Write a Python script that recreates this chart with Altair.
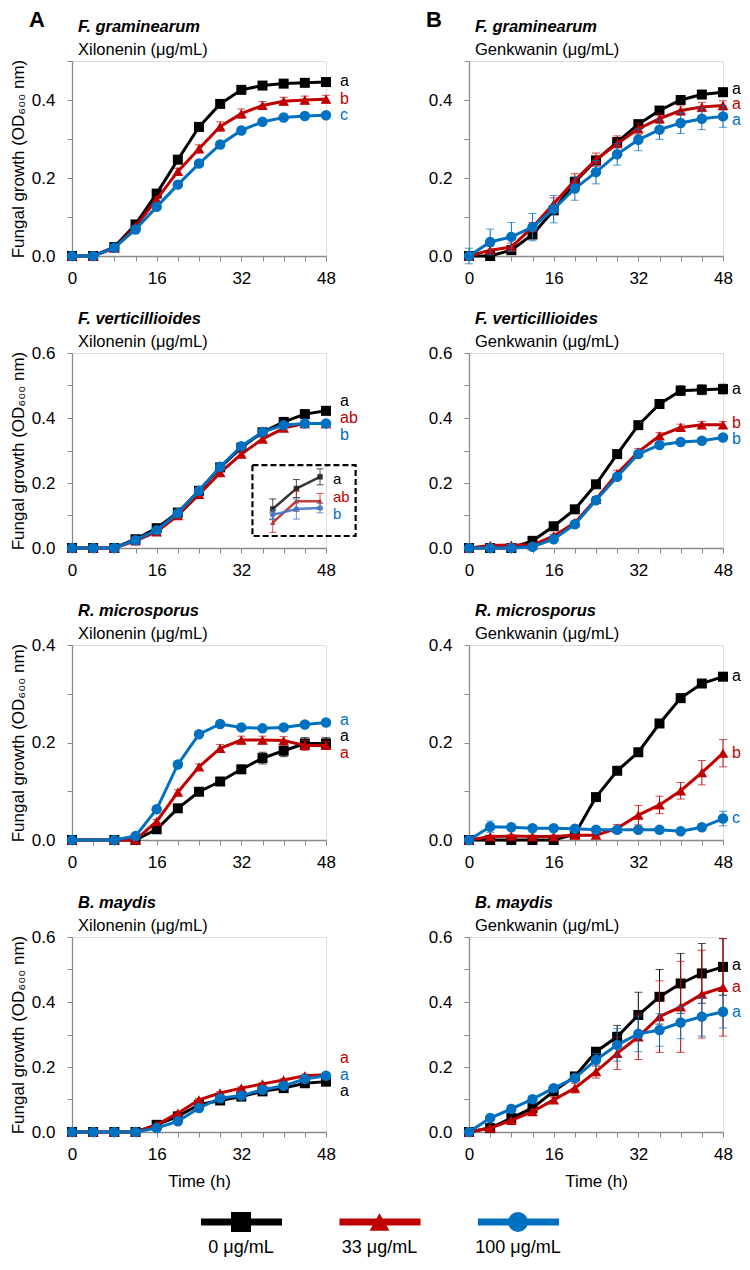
import altair as alt
import pandas as pd

FONT = "Liberation Sans"
TIME = [0, 4, 8, 12, 16, 20, 24, 28, 32, 36, 40, 44, 48]
TIME_RM_XIL = [0, 8, 12, 16, 20, 24, 28, 32, 36, 40, 44, 48]
XTICKS = TIME
SERIES = ["0 μg/mL", "33 μg/mL", "100 μg/mL"]
COLORS = ["#000000", "#C00000", "#0070C0"]
SHAPES = ["square", "triangle-up", "circle"]
SIZES = [100, 115, 110]
YTITLE = "Fungal growth (OD₆₀₀ nm)"

# ---------------- F. graminearum ----------------
fg_xil_0 = [0, 0, 0.023, 0.081, 0.160, 0.247, 0.331, 0.390, 0.426, 0.437, 0.442, 0.444, 0.446]
fg_xil_33 = [0, 0, 0.020, 0.075, 0.145, 0.217, 0.275, 0.332, 0.365, 0.386, 0.397, 0.400, 0.402]
fg_xil_100 = [0, 0, 0.021, 0.068, 0.126, 0.183, 0.237, 0.286, 0.322, 0.344, 0.355, 0.359, 0.361]
fg_xil_sd0 = [0, 0, 0.003, 0.005, 0.005, 0.006, 0.006, 0.006, 0.006, 0.005, 0.005, 0.005, 0.005]
fg_xil_sd33 = [0, 0, 0.003, 0.005, 0.006, 0.008, 0.010, 0.012, 0.012, 0.010, 0.010, 0.010, 0.010]
fg_xil_sd100 = [0, 0, 0.003, 0.004, 0.004, 0.005, 0.005, 0.005, 0.005, 0.005, 0.005, 0.005, 0.005]
fg_xil_letters = ["a", "b", "c"]
fg_xil_letter_y = [0.448, 0.402, 0.361]

fg_gen_0 = [0, 0, 0.015, 0.055, 0.117, 0.190, 0.245, 0.292, 0.338, 0.373, 0.400, 0.414, 0.420]
fg_gen_33 = [0, 0.015, 0.023, 0.074, 0.134, 0.194, 0.247, 0.288, 0.326, 0.352, 0.373, 0.382, 0.386]
fg_gen_100 = [0, 0.036, 0.049, 0.074, 0.120, 0.173, 0.215, 0.261, 0.298, 0.324, 0.341, 0.352, 0.358]
fg_gen_sd0 = [0.005, 0.005, 0.005, 0.008, 0.010, 0.010, 0.010, 0.012, 0.010, 0.010, 0.010, 0.010, 0.010]
fg_gen_sd33 = [0.005, 0.010, 0.010, 0.012, 0.015, 0.017, 0.017, 0.020, 0.015, 0.012, 0.012, 0.012, 0.012]
fg_gen_sd100 = [0.020, 0.033, 0.037, 0.035, 0.035, 0.030, 0.030, 0.028, 0.028, 0.025, 0.027, 0.028, 0.028]
fg_gen_letters = ["a", "a", "a"]
fg_gen_letter_y = [0.429, 0.389, 0.349]

# ---------------- F. verticillioides ----------------
fv_xil_0 = [0, 0, 0, 0.027, 0.061, 0.109, 0.176, 0.248, 0.309, 0.356, 0.388, 0.412, 0.422]
fv_xil_33 = [0, 0, 0, 0.022, 0.050, 0.100, 0.165, 0.232, 0.289, 0.335, 0.369, 0.383, 0.383]
fv_xil_100 = [0, 0, 0, 0.024, 0.055, 0.107, 0.176, 0.250, 0.313, 0.357, 0.378, 0.383, 0.383]
fv_xil_sd0 = [0, 0, 0, 0.003, 0.004, 0.005, 0.005, 0.006, 0.006, 0.008, 0.010, 0.010, 0.010]
fv_xil_sd33 = [0, 0, 0, 0.003, 0.004, 0.005, 0.005, 0.006, 0.006, 0.008, 0.008, 0.008, 0.008]
fv_xil_sd100 = [0, 0, 0, 0.003, 0.004, 0.005, 0.005, 0.005, 0.005, 0.005, 0.005, 0.005, 0.005]
fv_xil_letters = ["a", "ab", "b"]
fv_xil_letter_y = [0.453, 0.399, 0.347]

fv_gen_0 = [0, 0, 0, 0.022, 0.067, 0.119, 0.196, 0.289, 0.378, 0.443, 0.484, 0.487, 0.489]
fv_gen_33 = [0, 0.008, 0.009, 0.009, 0.037, 0.078, 0.150, 0.229, 0.296, 0.345, 0.371, 0.379, 0.379]
fv_gen_100 = [0, 0, 0, 0.004, 0.027, 0.073, 0.147, 0.219, 0.289, 0.317, 0.326, 0.330, 0.340]
fv_gen_sd0 = [0, 0, 0, 0.003, 0.005, 0.006, 0.008, 0.008, 0.010, 0.010, 0.015, 0.015, 0.015]
fv_gen_sd33 = [0, 0.003, 0.003, 0.003, 0.005, 0.006, 0.008, 0.010, 0.010, 0.010, 0.010, 0.010, 0.010]
fv_gen_sd100 = [0, 0, 0, 0.003, 0.005, 0.006, 0.008, 0.008, 0.008, 0.008, 0.008, 0.008, 0.008]
fv_gen_letters = ["a", "b", "b"]
fv_gen_letter_y = [0.489, 0.386, 0.335]

# inset (F. verticillioides, Xilonenin, 40-48 h, magnified)
INSET_T = [40, 44, 48]
inset_0 = [0.390, 0.411, 0.423]
inset_33 = [0.376, 0.398, 0.398]
inset_100 = [0.384, 0.390, 0.391]
inset_sd0 = [0.0103, 0.0092, 0.0082]
inset_sd33 = [0.0100, 0.0103, 0.0080]
inset_sd100 = [0.0050, 0.0103, 0.0050]
inset_letter_y = [0.421, 0.402, 0.385]
INSET_X_DOMAIN = [6.06, 49.01]
INSET_Y_DOMAIN = [0.35, 0.55]
INSET_BOX_X = [34.1, 53.6]
INSET_BOX_Y = [0.037, 0.255]

# ---------------- R. microsporus ----------------
rm_xil_0 = [0, 0, 0, 0.022, 0.065, 0.099, 0.120, 0.145, 0.168, 0.183, 0.198, 0.198]
rm_xil_33 = [0, 0, 0, 0.038, 0.098, 0.150, 0.188, 0.205, 0.205, 0.204, 0.194, 0.194]
rm_xil_100 = [0, 0, 0.008, 0.063, 0.155, 0.217, 0.238, 0.231, 0.229, 0.231, 0.237, 0.241]
rm_xil_sd0 = [0, 0, 0, 0.003, 0.005, 0.005, 0.006, 0.008, 0.012, 0.012, 0.012, 0.012]
rm_xil_sd33 = [0, 0, 0, 0.004, 0.005, 0.006, 0.008, 0.008, 0.008, 0.008, 0.010, 0.008]
rm_xil_sd100 = [0, 0, 0.003, 0.003, 0.003, 0.003, 0.003, 0.003, 0.003, 0.003, 0.003, 0.003]
rm_xil_letters = ["a", "a", "a"]
rm_xil_letter_y = [0.213, 0.178, 0.246]

rm_gen_0 = [0, 0, 0, 0, 0, 0.012, 0.088, 0.142, 0.180, 0.239, 0.291, 0.321, 0.335]
rm_gen_33 = [0, 0.007, 0.008, 0.007, 0.007, 0.010, 0.010, 0.024, 0.051, 0.072, 0.101, 0.138, 0.178]
rm_gen_100 = [0, 0.027, 0.026, 0.024, 0.024, 0.023, 0.021, 0.021, 0.021, 0.021, 0.018, 0.026, 0.044]
rm_gen_sd0 = [0, 0, 0, 0, 0, 0.003, 0.004, 0.004, 0.004, 0.005, 0.005, 0.005, 0.005]
rm_gen_sd33 = [0, 0.003, 0.003, 0.003, 0.003, 0.005, 0.005, 0.008, 0.020, 0.018, 0.017, 0.025, 0.028]
rm_gen_sd100 = [0, 0.012, 0.006, 0.005, 0.005, 0.005, 0.004, 0.004, 0.004, 0.004, 0.004, 0.006, 0.015]
rm_gen_letters = ["a", "b", "c"]
rm_gen_letter_y = [0.337, 0.179, 0.046]

# ---------------- B. maydis ----------------
bm_xil_0 = [0, 0, 0, 0, 0.022, 0.048, 0.084, 0.097, 0.109, 0.125, 0.135, 0.150, 0.155]
bm_xil_33 = [0, 0, 0, 0, 0.022, 0.058, 0.099, 0.120, 0.135, 0.148, 0.160, 0.173, 0.176]
bm_xil_100 = [0, 0, 0, 0, 0.012, 0.033, 0.074, 0.104, 0.112, 0.130, 0.142, 0.163, 0.173]
bm_xil_sd0 = [0, 0, 0, 0, 0.003, 0.004, 0.004, 0.004, 0.004, 0.004, 0.004, 0.005, 0.005]
bm_xil_sd33 = [0, 0, 0, 0, 0.003, 0.004, 0.004, 0.004, 0.004, 0.004, 0.004, 0.005, 0.005]
bm_xil_sd100 = [0, 0, 0, 0, 0.003, 0.004, 0.004, 0.004, 0.004, 0.004, 0.004, 0.005, 0.005]
bm_xil_letters = ["a", "a", "a"]
bm_xil_letter_y = [0.125, 0.229, 0.176]

bm_gen_0 = [0, 0.012, 0.043, 0.074, 0.125, 0.171, 0.247, 0.293, 0.360, 0.416, 0.457, 0.488, 0.508]
bm_gen_33 = [0, 0.012, 0.036, 0.063, 0.099, 0.135, 0.186, 0.242, 0.293, 0.355, 0.385, 0.424, 0.445]
bm_gen_100 = [0, 0.043, 0.071, 0.101, 0.135, 0.166, 0.222, 0.268, 0.302, 0.314, 0.337, 0.355, 0.370]
bm_gen_sd0 = [0, 0.003, 0.005, 0.006, 0.008, 0.010, 0.010, 0.035, 0.070, 0.084, 0.092, 0.092, 0.087]
bm_gen_sd33 = [0, 0.003, 0.005, 0.006, 0.008, 0.015, 0.020, 0.050, 0.070, 0.110, 0.140, 0.135, 0.150]
bm_gen_sd100 = [0, 0.005, 0.005, 0.006, 0.008, 0.010, 0.020, 0.050, 0.055, 0.050, 0.050, 0.060, 0.050]
bm_gen_letters = ["a", "a", "a"]
bm_gen_letter_y = [0.515, 0.445, 0.370]

PANELS = [
    [dict(species="F. graminearum", compound="Xilonenin (μg/mL)", ymax=0.5, time=TIME,
          vals=[fg_xil_0, fg_xil_33, fg_xil_100], sds=[fg_xil_sd0, fg_xil_sd33, fg_xil_sd100],
          letters=fg_xil_letters, letter_y=fg_xil_letter_y, tag="A"),
     dict(species="F. graminearum", compound="Genkwanin (μg/mL)", ymax=0.5, time=TIME,
          vals=[fg_gen_0, fg_gen_33, fg_gen_100], sds=[fg_gen_sd0, fg_gen_sd33, fg_gen_sd100],
          letters=fg_gen_letters, letter_y=fg_gen_letter_y, tag="B")],
    [dict(species="F. verticillioides", compound="Xilonenin (μg/mL)", ymax=0.6, time=TIME,
          vals=[fv_xil_0, fv_xil_33, fv_xil_100], sds=[fv_xil_sd0, fv_xil_sd33, fv_xil_sd100],
          letters=fv_xil_letters, letter_y=fv_xil_letter_y, inset=True),
     dict(species="F. verticillioides", compound="Genkwanin (μg/mL)", ymax=0.6, time=TIME,
          vals=[fv_gen_0, fv_gen_33, fv_gen_100], sds=[fv_gen_sd0, fv_gen_sd33, fv_gen_sd100],
          letters=fv_gen_letters, letter_y=fv_gen_letter_y)],
    [dict(species="R. microsporus", compound="Xilonenin (μg/mL)", ymax=0.4, time=TIME_RM_XIL,
          vals=[rm_xil_0, rm_xil_33, rm_xil_100], sds=[rm_xil_sd0, rm_xil_sd33, rm_xil_sd100],
          letters=rm_xil_letters, letter_y=rm_xil_letter_y),
     dict(species="R. microsporus", compound="Genkwanin (μg/mL)", ymax=0.4, time=TIME,
          vals=[rm_gen_0, rm_gen_33, rm_gen_100], sds=[rm_gen_sd0, rm_gen_sd33, rm_gen_sd100],
          letters=rm_gen_letters, letter_y=rm_gen_letter_y)],
    [dict(species="B. maydis", compound="Xilonenin (μg/mL)", ymax=0.6, time=TIME,
          vals=[bm_xil_0, bm_xil_33, bm_xil_100], sds=[bm_xil_sd0, bm_xil_sd33, bm_xil_sd100],
          letters=bm_xil_letters, letter_y=bm_xil_letter_y),
     dict(species="B. maydis", compound="Genkwanin (μg/mL)", ymax=0.6, time=TIME,
          vals=[bm_gen_0, bm_gen_33, bm_gen_100], sds=[bm_gen_sd0, bm_gen_sd33, bm_gen_sd100],
          letters=bm_gen_letters, letter_y=bm_gen_letter_y)],
]

W, H = 254, 195
AXIS_GRAY = "#8a8a8a"
LABEL_SIZE = 17
LETTER_DX = [14, 9]


def make_panel(p, row, col):
    xs = alt.Scale(domain=[0, 48], nice=False)
    ys = alt.Scale(domain=[0, p["ymax"]], nice=False)
    n = int(round(p["ymax"] * 10))
    yticks = [round(i * 0.1, 1) for i in range(n + 1)]
    x_axis = alt.Axis(values=XTICKS, labelExpr="datum.value % 16 === 0 ? datum.label : ''",
                      labelFlush=False, labelOverlap=False, grid=False, tickSize=5,
                      labelPadding=9, labelFontSize=LABEL_SIZE, labelFont=FONT, labelColor="black",
                      domainColor=AXIS_GRAY, tickColor=AXIS_GRAY, domainWidth=1.3, tickWidth=1,
                      title="Time (h)" if row == 3 else "", titleFontSize=LABEL_SIZE,
                      titleFont=FONT, titleFontWeight="normal", titleColor="black", titlePadding=11)
    y_axis = alt.Axis(values=yticks,
                      labelExpr="(round(datum.value*10) % 2 === 0) ? format(datum.value, '.1f') : ''",
                      labelFlush=False, labelOverlap=False, grid=False, tickSize=5,
                      labelPadding=12, labelFontSize=LABEL_SIZE, labelFont=FONT, labelColor="black",
                      domainColor=AXIS_GRAY, tickColor=AXIS_GRAY, domainWidth=1.3, tickWidth=1,
                      title=YTITLE if col == 0 else "", titleFontSize=LABEL_SIZE, titleFont=FONT,
                      titleFontWeight="normal", titleColor="black", titlePadding=4)

    def X(field="t"):
        return alt.X(f"{field}:Q", scale=xs, axis=x_axis)

    def Y(field):
        return alt.Y(f"{field}:Q", scale=ys, axis=y_axis)

    layers = []
    for i in range(3):
        c = COLORS[i]
        df = pd.DataFrame({"t": p["time"], "v": p["vals"][i], "sd": p["sds"][i]})
        df["lo"] = df["v"] - df["sd"]
        df["hi"] = df["v"] + df["sd"]
        err = df[df["sd"] > 0]
        caps = pd.concat([err[["t"]].assign(y=err["lo"]), err[["t"]].assign(y=err["hi"])])
        if len(err):
            layers.append(alt.Chart(err).mark_rule(color=c, strokeWidth=1).encode(
                x=X(), y=Y("lo"), y2="hi:Q"))
            layers.append(alt.Chart(caps).mark_tick(orient="horizontal", color=c, size=8,
                                                    thickness=1).encode(x=X(), y=Y("y")))
        layers.append(alt.Chart(df).mark_line(color=c, strokeWidth=3).encode(x=X(), y=Y("v")))
        layers.append(alt.Chart(df).mark_point(filled=True, shape=SHAPES[i], size=SIZES[i],
                                               color=c, opacity=1).encode(x=X(), y=Y("v")))
    lab = pd.DataFrame({"t": [48, 48, 48], "ly": p["letter_y"], "txt": p["letters"],
                        "s": SERIES})
    layers.append(alt.Chart(lab).mark_text(align="left", baseline="middle", dx=LETTER_DX[col],
                                           fontSize=16, font=FONT).encode(
        x=X(), y=Y("ly"), text="txt:N",
        color=alt.Color("s:N", scale=alt.Scale(domain=SERIES, range=COLORS), legend=None)))

    # headings
    head = pd.DataFrame({"sp": [p["species"]], "cp": [p["compound"]], "tag": [p.get("tag", "")]})
    layers.append(alt.Chart(head).mark_text(align="left", baseline="alphabetic", fontSize=16.5,
                                            font=FONT, fontStyle="italic", fontWeight="bold",
                                            color="black").encode(
        text="sp:N", x=alt.value(6), y=alt.value(-29)))
    layers.append(alt.Chart(head).mark_text(align="left", baseline="alphabetic", fontSize=16.5,
                                            font=FONT, color="black").encode(
        text="cp:N", x=alt.value(6), y=alt.value(-6)))
    if p.get("tag"):
        layers.append(alt.Chart(head).mark_text(align="left", baseline="top", fontSize=22,
                                                font=FONT, fontWeight="bold", color="black").encode(
            text="tag:N", x=alt.value(-43), y=alt.value(-51)))

    if p.get("inset"):
        box = pd.DataFrame({"x": [INSET_BOX_X[0]], "x2": [INSET_BOX_X[1]],
                            "y": [INSET_BOX_Y[0]], "y2": [INSET_BOX_Y[1]]})
        layers.append(alt.Chart(box).mark_rect(fill=None, stroke="black", strokeWidth=2.2,
                                               strokeDash=[6, 3]).encode(
            x=X("x"), x2="x2:Q", y=Y("y"), y2="y2:Q"))

    main = alt.layer(*layers)

    if not p.get("inset"):
        return main.properties(width=W, height=H)

    ixs = alt.Scale(domain=INSET_X_DOMAIN, nice=False)
    iys = alt.Scale(domain=INSET_Y_DOMAIN, nice=False)
    ilayers = []
    ivals = [inset_0, inset_33, inset_100]
    isds = [inset_sd0, inset_sd33, inset_sd100]
    icols = ["#222222", "#C02828", "#3F78C8"]
    iletters = fv_xil_letters
    for i in range(3):
        c = icols[i]
        df = pd.DataFrame({"t": INSET_T, "v": ivals[i], "sd": isds[i]})
        df["lo"] = df["v"] - df["sd"]
        df["hi"] = df["v"] + df["sd"]
        caps = pd.concat([df[["t"]].assign(y=df["lo"]), df[["t"]].assign(y=df["hi"])])
        ix = alt.X("t:Q", scale=ixs, axis=None)
        ilayers.append(alt.Chart(df).mark_rule(color=c, strokeWidth=1, opacity=0.8).encode(
            x=ix, y=alt.Y("lo:Q", scale=iys, axis=None), y2="hi:Q"))
        ilayers.append(alt.Chart(caps).mark_tick(orient="horizontal", color=c, size=7, thickness=1,
                                                 opacity=0.8).encode(
            x=ix, y=alt.Y("y:Q", scale=iys, axis=None)))
        ilayers.append(alt.Chart(df).mark_line(color=c, strokeWidth=2.5, opacity=0.9).encode(
            x=ix, y=alt.Y("v:Q", scale=iys, axis=None)))
        ilayers.append(alt.Chart(df).mark_point(filled=True, shape=SHAPES[i], size=30, color=c,
                                                opacity=0.9).encode(
            x=ix, y=alt.Y("v:Q", scale=iys, axis=None)))
    ilab = pd.DataFrame({"t": [48, 48, 48], "ly": inset_letter_y, "txt": iletters, "s": SERIES})
    ilayers.append(alt.Chart(ilab).mark_text(align="left", baseline="middle", dx=13,
                                             fontSize=15, font=FONT).encode(
        x=alt.X("t:Q", scale=ixs, axis=None), y=alt.Y("ly:Q", scale=iys, axis=None),
        text="txt:N",
        color=alt.Color("s:N", scale=alt.Scale(domain=SERIES, range=COLORS), legend=None)))
    inset = alt.layer(*ilayers)
    return alt.layer(main, inset).resolve_scale(x="independent", y="independent").properties(
        width=W, height=H)


panels = []
for r, row in enumerate(PANELS):
    for c, p in enumerate(row):
        panels.append(make_panel(p, r, c))

# legend (sits under the left column; items extend to the right of its frame)
LEG_W = W
LEG_STEP = 138.5
LEG_FIRST = 169
leg = pd.DataFrame({"i": [0, 1, 2], "s": SERIES})
lx = alt.Scale(domain=[-LEG_FIRST / LEG_STEP, (LEG_W - LEG_FIRST) / LEG_STEP], nice=False)
cscale = alt.Scale(domain=SERIES, range=COLORS)
sscale = alt.Scale(domain=SERIES, range=SHAPES)
legend = alt.layer(
    alt.Chart(leg).mark_rule(strokeWidth=7, xOffset=-40, x2Offset=41).encode(
        x=alt.X("i:Q", scale=lx, axis=None), x2="i:Q", y=alt.value(-7),
        color=alt.Color("s:N", scale=cscale, legend=None)),
    alt.Chart(leg).mark_point(filled=True, size=400, opacity=1).encode(
        x=alt.X("i:Q", scale=lx, axis=None), y=alt.value(-7),
        color=alt.Color("s:N", scale=cscale, legend=None),
        shape=alt.Shape("s:N", scale=sscale, legend=None)),
    alt.Chart(leg).mark_text(fontSize=18, font=FONT, color="black", baseline="middle").encode(
        x=alt.X("i:Q", scale=lx, axis=None), y=alt.value(19), text="s:N"),
).properties(width=LEG_W, height=10, view=alt.ViewBackground(stroke="transparent", strokeWidth=0))

chart = alt.concat(*panels, legend, columns=2, spacing={"row": 97, "column": 143},
                   bounds="flush").properties(
    padding={"left": 0, "top": 0, "right": 0, "bottom": 0}
).configure_view(stroke=None, strokeWidth=0).configure(font=FONT)

chart.save("out.html", embed_options={"renderer": "svg", "actions": False})
